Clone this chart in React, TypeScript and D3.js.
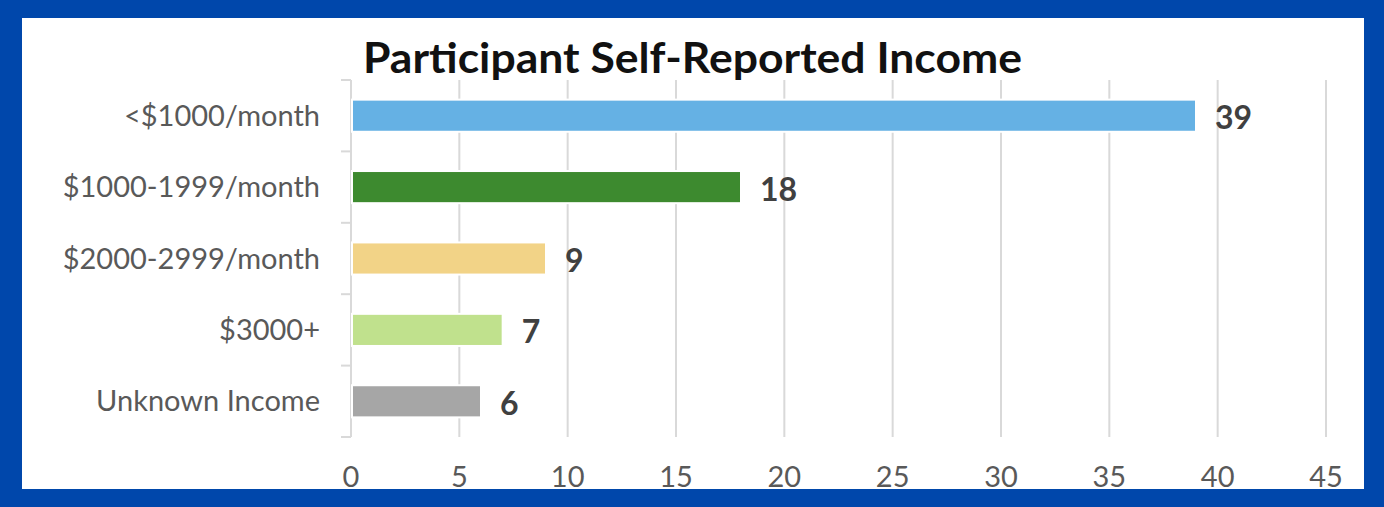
import React, { useEffect, useRef } from 'react';
import * as d3 from 'd3';

const categories = [
  '<$1000/month',
  '$1000-1999/month',
  '$2000-2999/month',
  '$3000+',
  'Unknown Income',
];
const values = [39, 18, 9, 7, 6];
const barColors = ['#65B1E4', '#3D8A2F', '#F2D387', '#C0E18D', '#A6A6A6'];
const xTicks = [0, 5, 10, 15, 20, 25, 30, 35, 40, 45];
const title = 'Participant Self-Reported Income';

const App = () => {
  const ref = useRef<SVGSVGElement | null>(null);

  useEffect(() => {
    const svg = d3.select(ref.current);
    svg.selectAll('*').remove();

    const W = 1384;
    const H = 507;
    const font = 'Lato, "Open Sans", sans-serif';

    // blue frame with white panel
    svg.append('rect').attr('width', W).attr('height', H).attr('fill', '#0047AB');
    svg
      .append('rect')
      .attr('x', 22)
      .attr('y', 18)
      .attr('width', 1342)
      .attr('height', 471)
      .attr('fill', '#ffffff');

    const x = d3.scaleLinear().domain([0, 45]).range([351, 1326]);
    const y = d3
      .scaleBand<string>()
      .domain(categories)
      .range([80, 437])
      .paddingInner(0.55)
      .paddingOuter(0.275);

    // gridlines
    svg
      .append('g')
      .selectAll('line')
      .data(xTicks.slice(1))
      .join('line')
      .attr('x1', (d) => x(d))
      .attr('x2', (d) => x(d))
      .attr('y1', 80)
      .attr('y2', 437)
      .attr('stroke', '#d9d9d9')
      .attr('stroke-width', 2);

    // y axis line + ticks at band boundaries
    const yAxis = svg.append('g');
    yAxis
      .append('line')
      .attr('x1', x(0))
      .attr('x2', x(0))
      .attr('y1', 80)
      .attr('y2', 437)
      .attr('stroke', '#d9d9d9')
      .attr('stroke-width', 2);
    const step = y.step();
    const bounds = d3.range(categories.length + 1).map((i) => 80 + i * step);
    yAxis
      .selectAll('line.tick')
      .data(bounds)
      .join('line')
      .attr('class', 'tick')
      .attr('x1', x(0) - 10)
      .attr('x2', x(0))
      .attr('y1', (d) => d)
      .attr('y2', (d) => d)
      .attr('stroke', '#d9d9d9')
      .attr('stroke-width', 2);

    // bars
    svg
      .append('g')
      .selectAll('rect')
      .data(values)
      .join('rect')
      .attr('x', x(0) + 1)
      .attr('y', (d, i) => y(categories[i]) as number)
      .attr('width', (d) => x(d) - x(0) - 1)
      .attr('height', y.bandwidth())
      .attr('fill', (d, i) => barColors[i])
      .attr('stroke', '#ffffff')
      .attr('stroke-width', 2);

    // category labels
    svg
      .append('g')
      .selectAll('text')
      .data(categories)
      .join('text')
      .attr('x', 320)
      .attr('y', (d) => (y(d) as number) + y.bandwidth() / 2)
      .attr('dy', '0.35em')
      .attr('text-anchor', 'end')
      .attr('font-family', font)
      .attr('font-size', 29)
      .attr('fill', '#595959')
      .text((d) => d);

    // value labels
    svg
      .append('g')
      .selectAll('text')
      .data(values)
      .join('text')
      .attr('x', (d) => x(d) + 19)
      .attr('y', (d, i) => (y(categories[i]) as number) + y.bandwidth() / 2)
      .attr('dy', '0.42em')
      .attr('font-family', font)
      .attr('font-weight', 'bold')
      .attr('font-size', 32)
      .attr('fill', '#404040')
      .text((d) => d);

    // x tick labels
    svg
      .append('g')
      .selectAll('text')
      .data(xTicks)
      .join('text')
      .attr('x', (d) => x(d))
      .attr('y', 487)
      .attr('text-anchor', 'middle')
      .attr('font-family', font)
      .attr('font-size', 29)
      .attr('fill', '#595959')
      .text((d) => d);

    // title
    svg
      .append('text')
      .attr('x', 363)
      .attr('y', 73)
      .attr('font-family', font)
      .attr('font-weight', 'bold')
      .attr('font-size', 42)
      .attr('fill', '#111111')
      .attr('textLength', 659)
      .attr('lengthAdjust', 'spacingAndGlyphs')
      .text(title);
  }, []);

  return (
    <svg
      ref={ref}
      width={1384}
      height={507}
      style={{ position: 'fixed', top: 0, left: 0, display: 'block' }}
    />
  );
};

export default App;
